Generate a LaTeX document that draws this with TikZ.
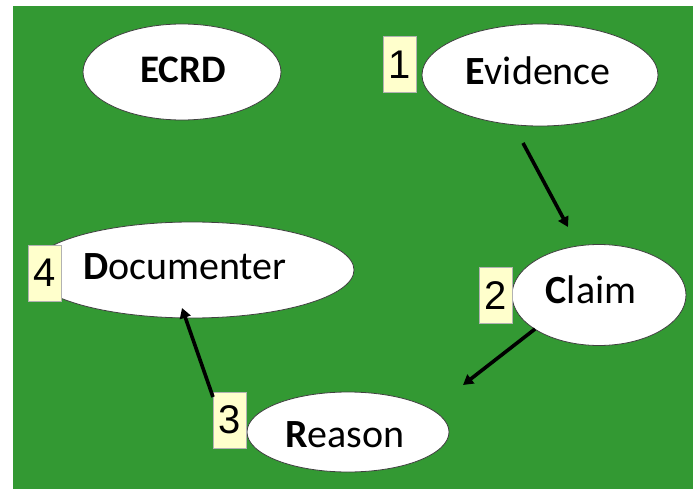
\documentclass[tikz,border=0pt]{standalone}
\usepackage{fontspec}
\setmainfont{Carlito}
\newfontfamily\digitfont{Liberation Sans}
\usetikzlibrary{shapes.geometric,arrows.meta}
\definecolor{bggreen}{HTML}{339933}
\definecolor{numfill}{HTML}{FFFFCC}
\tikzset{
  oval/.style={ellipse,draw=black!75,line width=0.8pt,fill=white,inner sep=0pt},
  numbox/.style={draw=black!30,line width=0.6pt,fill=numfill,inner sep=0pt,minimum width=33pt,minimum height=56pt,font=\digitfont\fontsize{40}{40}\selectfont},
  conn/.style={line width=3.6pt,-{Triangle[length=10pt,width=11pt]}},
  ovtext/.style={font=\fontsize{40}{40}\selectfont}
}
\begin{document}
\begin{tikzpicture}[x=1pt,y=-1pt]
\useasboundingbox (0,0) rectangle (693,489);
\fill[white] (0,0) rectangle (693,489);
\fill[bggreen] (13,6) rectangle (693,489);
% ellipses
\node[oval,minimum width=198pt,minimum height=96pt] (ecrd) at (182,72) {};
\node[font=\bfseries\fontsize{39}{39}\selectfont] (ecrdtext) at (183,70) {ECRD};
\node[oval,minimum width=236pt,minimum height=102pt] (ev) at (540,75) {};
\node[ovtext] (evtext) at (538,71) {\textbf{E}vidence};
\node[oval,minimum width=174pt,minimum height=101pt] (cl) at (599,295) {};
\node[ovtext] (cltext) at (591,290) {\textbf{C}laim};
\node[oval,minimum width=324pt,minimum height=96pt] (doc) at (192,270) {};
\node[ovtext] (doctext) at (185,267) {\textbf{D}ocumenter};
\node[oval,minimum width=202pt,minimum height=80pt] (rs) at (348,432) {};
\node[ovtext] (rstext) at (345,435) {\textbf{R}eason};
% number boxes
\node[numbox] (n1) at (399.5,64.5) {1};
\node[numbox] (n2) at (495.5,295.5) {2};
\node[numbox] (n3) at (230,420) {3};
\node[numbox] (n4) at (44.5,273) {4};
% connectors
\coordinate (a1s) at (523,143);
\coordinate (a1e) at (568,227);
\coordinate (a2s) at (535,329);
\coordinate (a2e) at (463,385);
\coordinate (a3s) at (213,397);
\coordinate (a3e) at (182,308);
\draw[conn] (a1s) -- (a1e);
\draw[conn] (a2s) -- (a2e);
\draw[conn] (a3s) -- (a3e);
\end{tikzpicture}
\end{document}
